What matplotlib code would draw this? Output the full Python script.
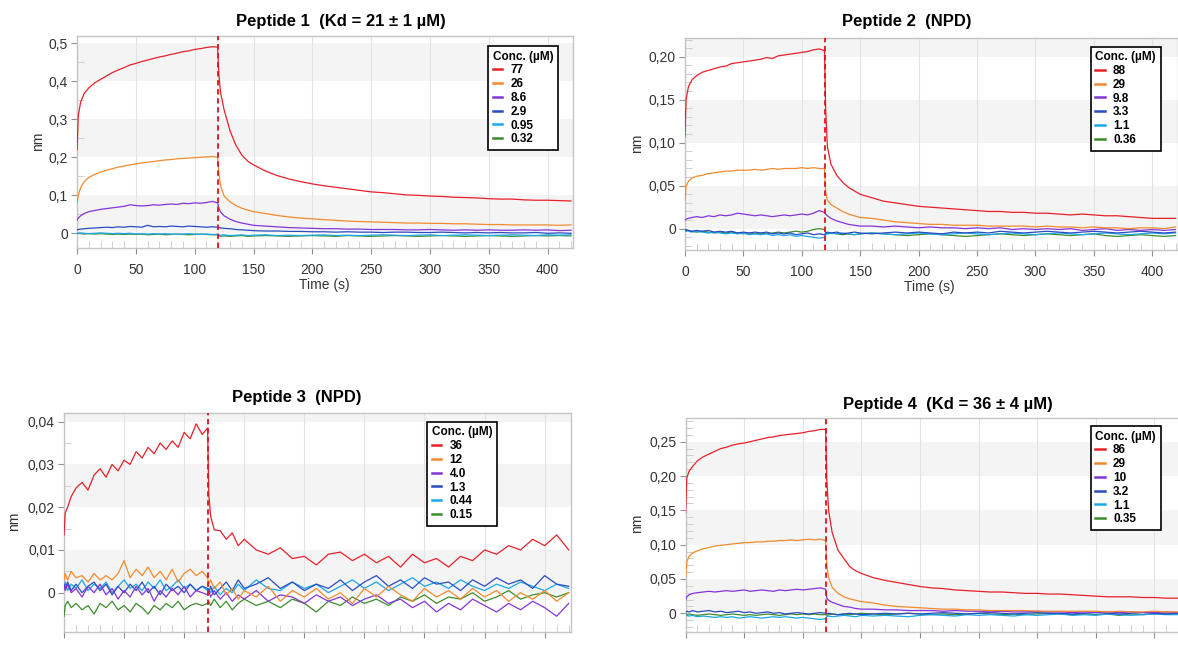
import matplotlib
matplotlib.use('Agg')
import matplotlib.pyplot as plt
from matplotlib.ticker import MultipleLocator
from matplotlib.lines import Line2D

plt.rcParams['font.family'] = ['Liberation Sans', 'DejaVu Sans']

# ---------------- data ----------------
T = [0, 1, 3, 6, 10, 15, 20, 25, 30, 35, 40, 45, 50, 55, 60, 65, 70, 75, 80, 85,
     90, 95, 100, 105, 110, 115, 119.5, 120.5, 122, 125, 130, 135, 140, 145, 150,
     160, 170, 180, 190, 200, 210, 220, 230, 240, 250, 260, 270, 280, 290, 300,
     310, 320, 330, 340, 350, 360, 370, 380, 390, 400, 410, 420]

X_TICKS = [0, 50, 100, 150, 200, 250, 300, 350, 400]
X_LABELS = ['0', '50', '100', '150', '200', '250', '300', '350', '400']

# Peptide 1
P1_CONC = ['77', '26', '8.6', '2.9', '0.95', '0.32']
P1_YTICKS = [0, 0.1, 0.2, 0.3, 0.4, 0.5]
P1_YLABELS = ['0', '0,1', '0,2', '0,3', '0,4', '0,5']
P1_77 = [0.220, 0.310, 0.345, 0.368, 0.383, 0.396, 0.405, 0.414, 0.423, 0.430, 0.436, 0.443, 0.447,
         0.452, 0.456, 0.460, 0.464, 0.467, 0.471, 0.474, 0.478, 0.480, 0.484, 0.486, 0.489, 0.491,
         0.490,
         0.420, 0.370, 0.325, 0.270, 0.232, 0.206, 0.190, 0.180, 0.164, 0.152, 0.143, 0.136, 0.130,
         0.125, 0.121, 0.117, 0.113, 0.109, 0.107, 0.104, 0.101, 0.100, 0.098, 0.097, 0.095, 0.094,
         0.093, 0.091, 0.090, 0.090, 0.088, 0.087, 0.087, 0.086, 0.085]
P1_26 = [0.080, 0.100, 0.120, 0.136, 0.147, 0.155, 0.161, 0.166, 0.170, 0.174, 0.177, 0.180, 0.183,
         0.185, 0.187, 0.189, 0.191, 0.193, 0.194, 0.196, 0.197, 0.198, 0.199, 0.200, 0.201, 0.202,
         0.200,
         0.160, 0.125, 0.098, 0.083, 0.073, 0.066, 0.061, 0.057, 0.052, 0.047, 0.043, 0.040, 0.038,
         0.036, 0.034, 0.032, 0.031, 0.030, 0.029, 0.028, 0.027, 0.027, 0.026, 0.026, 0.025, 0.025,
         0.024, 0.023, 0.023, 0.022, 0.022, 0.022, 0.022, 0.021, 0.022]
P1_8_6 = [0.035, 0.040, 0.046, 0.052, 0.057, 0.060, 0.063, 0.065, 0.067, 0.069, 0.071, 0.075, 0.073,
          0.072, 0.073, 0.075, 0.074, 0.076, 0.077, 0.076, 0.079, 0.078, 0.080, 0.079, 0.081, 0.084,
          0.080,
          0.066, 0.056, 0.046, 0.037, 0.031, 0.027, 0.024, 0.021, 0.019, 0.017, 0.015, 0.014, 0.013,
          0.012, 0.012, 0.011, 0.011, 0.010, 0.010, 0.010, 0.009, 0.009, 0.010, 0.009, 0.008, 0.009,
          0.008, 0.009, 0.008, 0.008, 0.009, 0.008, 0.009, 0.007, 0.008]
P1_2_9 = [0.009, 0.010, 0.011, 0.012, 0.013, 0.014, 0.015, 0.016, 0.015, 0.017, 0.016, 0.018, 0.017,
          0.016, 0.021, 0.017, 0.018, 0.017, 0.019, 0.018, 0.017, 0.019, 0.018, 0.017, 0.016, 0.017,
          0.016,
          0.015, 0.014, 0.013, 0.012, 0.010, 0.009, 0.008, 0.007, 0.006, 0.006, 0.005, 0.005, 0.004,
          0.004, 0.003, 0.004, 0.003, 0.003, 0.002, 0.003, 0.003, 0.002, 0.002, 0.003, 0.002, 0.001,
          0.002, 0.001, 0.002, 0.001, 0.001, 0.002, 0.000, 0.001, 0.000]
P1_0_95 = [0.001, 0.000, 0.001, 0.000, -0.001, 0.000, 0.001, 0.000, -0.001, 0.000, -0.001, 0.000, -0.002,
           -0.001, -0.002, -0.001, -0.002, -0.001, -0.002, -0.003, -0.002, -0.001, -0.002, -0.003, -0.002, -0.003,
           -0.003,
           -0.004, -0.005, -0.004, -0.006, -0.005, -0.004, -0.006, -0.005, -0.004, -0.006, -0.005, -0.006, -0.005,
           -0.004, -0.006, -0.005, -0.006, -0.005, -0.004, -0.005, -0.006, -0.005, -0.004, -0.006, -0.005, -0.004,
           -0.005, -0.006, -0.005, -0.004, -0.005, -0.006, -0.004, -0.005, -0.004]
P1_0_32 = [-0.001, 0.000, -0.001, -0.002, -0.001, -0.002, -0.001, -0.002, -0.003, -0.002, -0.003, -0.002, -0.003,
           -0.002, -0.004, -0.003, -0.002, -0.004, -0.003, -0.002, -0.003, -0.004, -0.003, -0.002, -0.003, -0.004,
           -0.004,
           -0.006, -0.008, -0.007, -0.008, -0.007, -0.006, -0.008, -0.007, -0.006, -0.007, -0.008, -0.007, -0.006,
           -0.007, -0.008, -0.006, -0.007, -0.008, -0.007, -0.006, -0.007, -0.008, -0.007, -0.006, -0.007, -0.008,
           -0.007, -0.006, -0.007, -0.008, -0.007, -0.006, -0.007, -0.006, -0.007]

# Peptide 2
P2_CONC = ['88', '29', '9.8', '3.3', '1.1', '0.36']
P2_YTICKS = [0, 0.05, 0.10, 0.15, 0.20]
P2_YLABELS = ['0', '0,05', '0,10', '0,15', '0,20']
P2_88 = [0.107, 0.150, 0.165, 0.173, 0.178, 0.182, 0.184, 0.186, 0.188, 0.189, 0.192, 0.193, 0.194,
         0.195, 0.196, 0.197, 0.199, 0.198, 0.201, 0.202, 0.203, 0.204, 0.205, 0.206, 0.208, 0.209,
         0.207,
         0.138, 0.095, 0.075, 0.062, 0.054, 0.048, 0.044, 0.040, 0.036, 0.032, 0.030, 0.028, 0.026,
         0.025, 0.024, 0.023, 0.022, 0.021, 0.020, 0.020, 0.019, 0.019, 0.018, 0.018, 0.017, 0.016,
         0.017, 0.016, 0.015, 0.015, 0.014, 0.013, 0.012, 0.012, 0.012]
P2_29 = [0.033, 0.049, 0.055, 0.059, 0.061, 0.062, 0.064, 0.065, 0.066, 0.067, 0.067, 0.068, 0.068,
         0.068, 0.069, 0.068, 0.069, 0.070, 0.069, 0.070, 0.070, 0.070, 0.071, 0.070, 0.071, 0.070,
         0.070,
         0.042, 0.033, 0.028, 0.024, 0.020, 0.017, 0.015, 0.013, 0.012, 0.010, 0.008, 0.007, 0.006,
         0.005, 0.005, 0.004, 0.004, 0.004, 0.003, 0.003, 0.003, 0.003, 0.002, 0.003, 0.002, 0.002,
         0.001, 0.002, 0.001, 0.001, 0.000, 0.001, 0.001, 0.000, 0.002]
P2_9_8 = [0.010, 0.011, 0.012, 0.013, 0.014, 0.013, 0.015, 0.014, 0.016, 0.015, 0.016, 0.018, 0.017,
          0.016, 0.015, 0.016, 0.015, 0.014, 0.015, 0.016, 0.015, 0.016, 0.017, 0.016, 0.018, 0.021,
          0.019,
          0.017, 0.015, 0.012, 0.009, 0.007, 0.005, 0.004, 0.003, 0.003, 0.002, 0.003, 0.002, 0.001,
          0.002, 0.001, 0.001, 0.000, 0.001, 0.000, 0.001, -0.001, 0.000, -0.001, 0.000, -0.001, 0.000,
          -0.002, -0.001, 0.000, -0.002, -0.001, -0.002, -0.001, -0.002, -0.001]
P2_3_3 = [-0.002, -0.001, -0.002, -0.003, -0.002, -0.003, -0.002, -0.004, -0.003, -0.004, -0.003, -0.005, -0.004,
          -0.005, -0.004, -0.005, -0.004, -0.006, -0.005, -0.006, -0.005, -0.007, -0.006, -0.005, -0.007, -0.006,
          -0.007,
          -0.005, -0.004, -0.005, -0.004, -0.006, -0.005, -0.004, -0.005, -0.006, -0.005, -0.004, -0.005, -0.004,
          -0.005, -0.006, -0.004, -0.005, -0.004, -0.005, -0.003, -0.004, -0.005, -0.004, -0.003, -0.004, -0.005,
          -0.004, -0.003, -0.004, -0.005, -0.004, -0.003, -0.004, -0.005, -0.004]
P2_1_1 = [-0.003, -0.002, -0.003, -0.004, -0.003, -0.004, -0.005, -0.004, -0.005, -0.006, -0.005, -0.006, -0.005,
          -0.007, -0.006, -0.007, -0.006, -0.008, -0.007, -0.008, -0.007, -0.009, -0.008, -0.009, -0.010, -0.011,
          -0.010,
          -0.007, -0.006, -0.005, -0.006, -0.005, -0.006, -0.007, -0.006, -0.005, -0.006, -0.007, -0.006, -0.005,
          -0.006, -0.007, -0.006, -0.005, -0.006, -0.007, -0.006, -0.005, -0.006, -0.007, -0.006, -0.005, -0.006,
          -0.007, -0.006, -0.005, -0.006, -0.007, -0.006, -0.005, -0.006, -0.005]
P2_0_36 = [-0.002, -0.003, -0.002, -0.003, -0.004, -0.003, -0.004, -0.005, -0.004, -0.005, -0.004, -0.005, -0.006,
           -0.005, -0.006, -0.005, -0.006, -0.005, -0.004, -0.005, -0.004, -0.003, -0.004, -0.003, -0.001, 0.000,
           -0.001,
           -0.005, -0.006, -0.005, -0.006, -0.007, -0.006, -0.007, -0.006, -0.005, -0.006, -0.007, -0.008, -0.007,
           -0.006, -0.007, -0.008, -0.009, -0.008, -0.007, -0.006, -0.007, -0.008, -0.007, -0.006, -0.007, -0.008,
           -0.007, -0.006, -0.008, -0.009, -0.008, -0.007, -0.008, -0.009, -0.008]

# Peptide 3
P3_CONC = ['36', '12', '4.0', '1.3', '0.44', '0.15']
P3_YTICKS = [0, 0.01, 0.02, 0.03, 0.04]
P3_YLABELS = ['0', '0,01', '0,02', '0,03', '0,04']
P3_36 = [0.0135, 0.0186, 0.0200, 0.0225, 0.0245, 0.0258, 0.0240, 0.0275, 0.0290, 0.0270, 0.0300, 0.0285, 0.0310,
         0.0300, 0.0330, 0.0315, 0.0340, 0.0325, 0.0350, 0.0335, 0.0355, 0.0340, 0.0375, 0.0360, 0.0395, 0.0370,
         0.0385,
         0.0230, 0.0180, 0.0147, 0.0145, 0.0125, 0.0140, 0.0110, 0.0125, 0.0100, 0.0090, 0.0105, 0.0080, 0.0085,
         0.0065, 0.0090, 0.0095, 0.0075, 0.0090, 0.0070, 0.0085, 0.0060, 0.0090, 0.0070, 0.0080, 0.0060, 0.0085,
         0.0075, 0.0100, 0.0090, 0.0110, 0.0100, 0.0125, 0.0110, 0.0135, 0.0100]
P3_12 = [0.0030, 0.0045, 0.0030, 0.0050, 0.0035, 0.0040, 0.0025, 0.0045, 0.0030, 0.0040, 0.0030, 0.0045, 0.0075,
         0.0035, 0.0055, 0.0040, 0.0060, 0.0035, 0.0050, 0.0030, 0.0055, 0.0025, 0.0045, 0.0055, 0.0040, 0.0050,
         0.0035,
         0.0020, 0.0030, 0.0010, 0.0025, -0.0005, 0.0010, -0.0015, 0.0005, -0.0010, 0.0015, -0.0020, 0.0005, -0.0010,
         0.0010, -0.0015, 0.0000, -0.0025, 0.0010, -0.0010, 0.0015, -0.0005, -0.0020, 0.0010, -0.0010, 0.0005, -0.0015,
         0.0010, -0.0010, 0.0005, -0.0020, 0.0000, -0.0015, 0.0005, -0.0020, 0.0000]
P3_4_0 = [0.0015, 0.0005, 0.0020, 0.0000, 0.0010, -0.0010, 0.0015, 0.0000, 0.0020, -0.0005, 0.0010, -0.0015, 0.0005,
          -0.0010, 0.0015, -0.0005, 0.0010, -0.0020, 0.0005, -0.0010, 0.0010, -0.0005, 0.0015, -0.0010, 0.0005, 0.0000,
          -0.0005,
          0.0005, -0.0010, 0.0005, -0.0015, 0.0000, -0.0020, -0.0005, -0.0015, 0.0005, -0.0020, -0.0005, -0.0010, -0.0025,
          -0.0005, -0.0020, -0.0010, -0.0030, -0.0015, -0.0005, -0.0025, -0.0015, -0.0035, -0.0020, -0.0045, -0.0025, -0.0040,
          -0.0015, -0.0030, -0.0045, -0.0025, -0.0040, -0.0020, -0.0035, -0.0055, -0.0025]
P3_1_3 = [0.0020, 0.0010, 0.0025, 0.0005, 0.0020, 0.0000, 0.0015, 0.0025, 0.0005, 0.0020, -0.0005, 0.0015, 0.0000,
          0.0020, 0.0005, 0.0025, 0.0000, 0.0015, -0.0005, 0.0020, 0.0005, 0.0015, 0.0000, 0.0020, 0.0005, 0.0015,
          0.0010,
          0.0000, 0.0015, -0.0005, 0.0010, 0.0025, 0.0005, 0.0030, 0.0010, 0.0020, 0.0035, 0.0010, 0.0025, 0.0005,
          0.0020, 0.0010, 0.0030, 0.0005, 0.0025, 0.0040, 0.0015, 0.0030, 0.0010, 0.0035, 0.0020, 0.0025, 0.0005,
          0.0030, 0.0015, 0.0035, 0.0020, 0.0030, 0.0010, 0.0040, 0.0020, 0.0015]
P3_0_44 = [0.0010, 0.0025, 0.0005, 0.0020, 0.0010, 0.0030, 0.0005, 0.0020, 0.0010, 0.0025, 0.0000, 0.0015, 0.0030,
           0.0010, 0.0020, 0.0005, 0.0025, 0.0010, 0.0030, 0.0005, 0.0015, 0.0030, 0.0010, 0.0020, 0.0005, 0.0015,
           0.0005,
           0.0010, 0.0000, 0.0015, -0.0005, 0.0010, 0.0000, 0.0020, 0.0005, 0.0030, 0.0010, 0.0005, 0.0025, 0.0010,
           0.0020, 0.0000, 0.0015, 0.0030, 0.0010, 0.0025, 0.0005, 0.0020, 0.0035, 0.0015, 0.0025, 0.0010, 0.0030,
           0.0015, 0.0005, 0.0020, 0.0010, 0.0025, 0.0015, 0.0005, 0.0020, 0.0010]
P3_0_15 = [-0.0055, -0.0030, -0.0020, -0.0035, -0.0025, -0.0040, -0.0030, -0.0050, -0.0025, -0.0035, -0.0020, -0.0040, -0.0030,
           -0.0045, -0.0025, -0.0035, -0.0050, -0.0030, -0.0040, -0.0025, -0.0035, -0.0020, -0.0040, -0.0030, -0.0025, -0.0030,
           -0.0025,
           -0.0020, -0.0030, -0.0015, -0.0035, -0.0020, -0.0040, -0.0025, -0.0015, -0.0030, -0.0020, -0.0035, -0.0015, -0.0025,
           -0.0045, -0.0020, -0.0030, -0.0010, -0.0025, -0.0015, -0.0030, -0.0010, -0.0020, -0.0005, -0.0025, -0.0010, -0.0015,
           0.0000, -0.0020, -0.0010, 0.0005, -0.0015, -0.0005, 0.0000, -0.0010, 0.0000]

# Peptide 4
P4_CONC = ['86', '29', '10', '3.2', '1.1', '0.35']
P4_YTICKS = [0, 0.05, 0.10, 0.15, 0.20, 0.25]
P4_YLABELS = ['0', '0,05', '0,10', '0,15', '0,20', '0,25']
P4_86 = [0.146, 0.197, 0.207, 0.214, 0.222, 0.228, 0.232, 0.236, 0.240, 0.242, 0.245, 0.247, 0.248,
         0.250, 0.252, 0.254, 0.256, 0.257, 0.259, 0.260, 0.261, 0.262, 0.263, 0.265, 0.266, 0.268,
         0.268,
         0.194, 0.150, 0.118, 0.092, 0.080, 0.068, 0.062, 0.058, 0.052, 0.048, 0.045, 0.042, 0.039,
         0.037, 0.036, 0.034, 0.033, 0.032, 0.031, 0.031, 0.030, 0.029, 0.029, 0.028, 0.028, 0.027,
         0.026, 0.025, 0.024, 0.024, 0.024, 0.023, 0.023, 0.022, 0.022]
P4_29 = [0.053, 0.075, 0.083, 0.088, 0.091, 0.094, 0.096, 0.098, 0.099, 0.100, 0.101, 0.102, 0.103,
         0.103, 0.104, 0.104, 0.105, 0.105, 0.106, 0.106, 0.107, 0.106, 0.107, 0.108, 0.107, 0.108,
         0.106,
         0.070, 0.052, 0.038, 0.029, 0.024, 0.021, 0.019, 0.017, 0.015, 0.012, 0.010, 0.009, 0.008,
         0.007, 0.006, 0.006, 0.005, 0.005, 0.004, 0.004, 0.004, 0.004, 0.003, 0.003, 0.003, 0.003,
         0.003, 0.003, 0.002, 0.003, 0.002, 0.002, 0.003, 0.002, 0.002]
P4_10 = [0.019, 0.024, 0.027, 0.029, 0.030, 0.031, 0.032, 0.031, 0.032, 0.033, 0.032, 0.033, 0.034,
         0.032, 0.033, 0.034, 0.033, 0.032, 0.034, 0.033, 0.034, 0.035, 0.034, 0.035, 0.036, 0.037,
         0.035,
         0.022, 0.019, 0.016, 0.013, 0.010, 0.009, 0.007, 0.006, 0.006, 0.005, 0.005, 0.004, 0.004,
         0.004, 0.003, 0.004, 0.003, 0.003, 0.002, 0.003, 0.002, 0.002, 0.003, 0.002, 0.002, 0.001,
         0.002, 0.001, 0.002, 0.001, 0.002, 0.001, 0.001, 0.002, 0.001]
P4_3_2 = [0.001, 0.003, 0.002, 0.004, 0.002, 0.003, 0.004, 0.002, 0.003, 0.001, 0.002, 0.003, 0.001,
          0.002, 0.000, 0.001, 0.002, 0.000, 0.001, -0.001, 0.000, 0.001, 0.000, -0.001, 0.000, 0.001,
          0.000,
          -0.001, 0.000, -0.001, -0.002, -0.001, 0.000, -0.001, -0.002, -0.001, 0.000, -0.001, 0.000, -0.001,
          0.000, 0.001, 0.000, -0.001, 0.000, 0.001, 0.000, -0.001, 0.000, 0.001, 0.000, 0.000, -0.001,
          0.000, 0.001, 0.000, -0.001, 0.000, 0.001, 0.000, -0.001, 0.000]
P4_1_1 = [-0.002, -0.003, -0.004, -0.003, -0.005, -0.004, -0.005, -0.006, -0.005, -0.006, -0.005, -0.007, -0.006,
          -0.005, -0.006, -0.007, -0.006, -0.005, -0.006, -0.005, -0.006, -0.007, -0.006, -0.007, -0.008, -0.009,
          -0.008,
          -0.005, -0.004, -0.005, -0.004, -0.003, -0.004, -0.005, -0.003, -0.004, -0.003, -0.004, -0.005, -0.003,
          -0.002, -0.003, -0.004, -0.002, -0.003, -0.002, -0.003, -0.004, -0.002, -0.003, -0.002, -0.001, -0.003,
          -0.002, -0.003, -0.001, -0.002, -0.003, -0.002, -0.001, -0.002, -0.002]
P4_0_35 = [-0.001, -0.002, -0.001, -0.002, -0.003, -0.002, -0.001, -0.002, -0.003, -0.002, -0.001, -0.002, -0.003,
           -0.002, -0.003, -0.002, -0.001, -0.002, -0.003, -0.002, -0.001, -0.002, -0.001, -0.002, -0.001, -0.002,
           -0.002,
           -0.003, -0.002, -0.001, -0.002, -0.001, -0.002, -0.001, 0.000, -0.001, -0.002, -0.001, 0.000, -0.001,
           -0.002, -0.001, -0.002, -0.001, 0.000, -0.001, -0.002, -0.001, -0.002, -0.001, 0.000, -0.001, -0.002,
           -0.001, -0.002, -0.001, -0.003, -0.001, -0.002, -0.001, 0.000, -0.001]

COLORS = ['#e8202a', '#f28a2e', '#8434d8', '#2b4cc0', '#1aa7ec', '#3c8c2c']
INJECT_T = 120

# ---------------- figure ----------------
W, H = 1178, 645
fig = plt.figure(figsize=(W / 100, H / 100), dpi=100)
fig.patch.set_facecolor('white')

BAND = '#f4f4f4'
TXT = '#333333'


def px_rect(left, top, right, bottom):
    return [left / W, 1 - bottom / H, (right - left) / W, (bottom - top) / H]


def panel(rect, series, conc, yticks, ylabels, ylim, yminor, leg_xy,
          title, title_xy, nm_xy, time_xy=None):
    ax = fig.add_axes(rect)
    ax.set_xlim(0, 422)
    ax.set_ylim(*ylim)
    step = yticks[1] - yticks[0]
    for y0 in yticks[0::2]:
        ax.axhspan(y0, y0 + step, color=BAND, lw=0, zorder=0)
    ax.set_axisbelow(True)
    ax.xaxis.grid(True, color='#e2e2e2', lw=0.8)
    for vals, c in reversed(list(zip(series, COLORS))):
        ax.plot(T, vals, color=c, lw=0.9, zorder=3)
    ax.axvline(INJECT_T, color='#e4101c', ls=(0, (3, 2)), lw=1.3, zorder=5)

    ax.set_xticks(X_TICKS)
    ax.set_xticklabels(X_LABELS)
    ax.xaxis.set_minor_locator(MultipleLocator(10))
    # the lower panels' time labels fall below the picture's bottom edge
    ax.tick_params(axis='x', which='major', direction='out', length=4, color='#909090',
                   pad=6.5, labelsize=10, labelcolor=TXT, labelbottom=time_xy is not None)
    ax.tick_params(axis='x', which='minor', direction='in', length=5, color='#c8c8c8')
    ax.set_yticks(yticks)
    ax.set_yticklabels(ylabels)
    ax.yaxis.set_minor_locator(MultipleLocator(yminor))
    ax.tick_params(axis='y', which='major', direction='out', length=4, color='#909090',
                   pad=2.5, labelsize=10, labelcolor=TXT)
    ax.tick_params(axis='y', which='minor', direction='in', length=5, color='#c8c8c8')
    for s in ax.spines.values():
        s.set_color('#c4c4c4')
        s.set_linewidth(1.0)

    handles = [Line2D([], [], color=c, lw=1.8) for c in COLORS]
    leg = ax.legend(handles, conc, title='Conc. (µM)', loc='upper left',
                    bbox_to_anchor=(leg_xy[0] / W, 1 - leg_xy[1] / H),
                    bbox_transform=fig.transFigure, borderaxespad=0,
                    frameon=True, fancybox=False, edgecolor='black', framealpha=1,
                    prop={'weight': 'bold', 'size': 8.5},
                    title_fontproperties={'weight': 'bold', 'size': 8.5},
                    handlelength=0.8, handletextpad=0.7, labelspacing=0.15,
                    borderpad=0.4, alignment='left')
    leg.get_frame().set_linewidth(1.2)
    leg.set_zorder(10)

    fig.text(title_xy[0] / W, 1 - title_xy[1] / H, title, ha='center', va='center',
             fontsize=12, fontweight='bold', color='black')
    fig.text(nm_xy[0] / W, 1 - nm_xy[1] / H, 'nm', ha='center', va='center',
             rotation=90, fontsize=10, color=TXT)
    if time_xy is not None:
        fig.text(time_xy[0] / W, 1 - time_xy[1] / H, 'Time (s)', ha='center', va='center',
                 fontsize=10, color=TXT)
    return ax


panel(px_rect(77.1, 36.0, 573.4, 248.3),
      [P1_77, P1_26, P1_8_6, P1_2_9, P1_0_95, P1_0_32], P1_CONC,
      P1_YTICKS, P1_YLABELS, (-0.0395, 0.5192), 0.05, (488.3, 46.0),
      'Peptide 1  (Kd = 21 ± 1 µM)', (341, 21.7), (37.6, 141.7), (324.3, 285))

panel(px_rect(684.9, 38.3, 1177.9, 250.0),
      [P2_88, P2_29, P2_9_8, P2_3_3, P2_1_1, P2_0_36], P2_CONC,
      P2_YTICKS, P2_YLABELS, (-0.0248, 0.2214), 0.01, (1090.6, 46.5),
      'Peptide 2  (NPD)', (906.3, 21.7), (636.9, 143), (929.3, 287.3))

panel(px_rect(64.0, 412.7, 571.1, 631.7),
      [P3_36, P3_12, P3_4_0, P3_1_3, P3_0_44, P3_0_15], P3_CONC,
      P3_YTICKS, P3_YLABELS, (-0.00912, 0.0421), 0.005, (427.0, 421.7),
      'Peptide 3  (NPD)', (297, 397.3), (14.3, 521.7))

panel(px_rect(685.6, 418.3, 1180.2, 632.3),
      [P4_86, P4_29, P4_10, P4_3_2, P4_1_1, P4_0_35], P4_CONC,
      P4_YTICKS, P4_YLABELS, (-0.0277, 0.2841), 0.01, (1090.6, 426.0),
      'Peptide 4  (Kd = 36 ± 4 µM)', (948, 404), (636.9, 523))

fig.savefig('out.png', dpi=100, facecolor='white')
